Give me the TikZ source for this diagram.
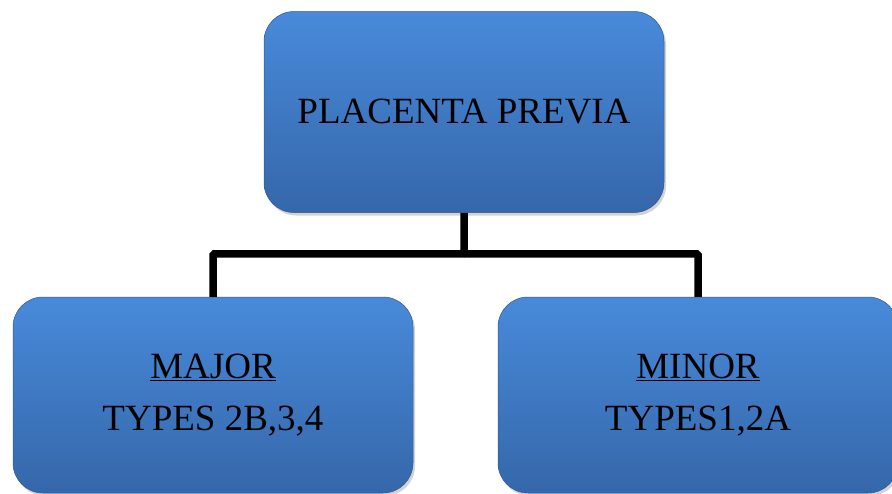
\documentclass[tikz,border=0pt]{standalone}
\usepackage{fontspec}
\setmainfont{Liberation Serif}
\usepackage{tikz}
\usetikzlibrary{calc, shadows, positioning}
\definecolor{boxtop}{RGB}{72, 138, 218}
\definecolor{boxbot}{RGB}{53, 103, 170}
\tikzset{
    boxnode/.style = {rectangle, rounded corners=30pt, top color=boxtop, bottom color=boxbot,
      draw=boxbot!85!black, line width=0.5pt, minimum width=400pt, inner sep=0pt,
      node distance=0em, font=\fontsize{37pt}{52pt}\selectfont, align=center,
      drop shadow={opacity=0.35, shadow xshift=2pt, shadow yshift=-3pt}},
    connect/.style = {black, line width=7.5pt, rounded corners=1.5pt}
}

\begin{document}
\begin{tikzpicture}
    \useasboundingbox (0,0) rectangle (892pt,-493pt);

    \node [name=previa, boxnode, minimum height=201pt] at (464pt,-112pt) {PLACENTA PREVIA};

    \node [name=major, boxnode, minimum height=196pt,
        below of = previa, xshift=-251pt, yshift=-283pt] {\underline{MAJOR}\\TYPES 2B,3,4};
    \node [name=minor, boxnode, minimum height=196pt,
        below of = previa, xshift=234pt, yshift=-283pt] {\underline{MINOR}\\TYPES1,2A};

    \coordinate (split) at ($(previa.south)+(0,-41pt)$);
    \draw [connect] (previa.south) -- (split) -| (major.north);
    \draw [connect] (split) -| (minor.north);
\end{tikzpicture}
\end{document}
